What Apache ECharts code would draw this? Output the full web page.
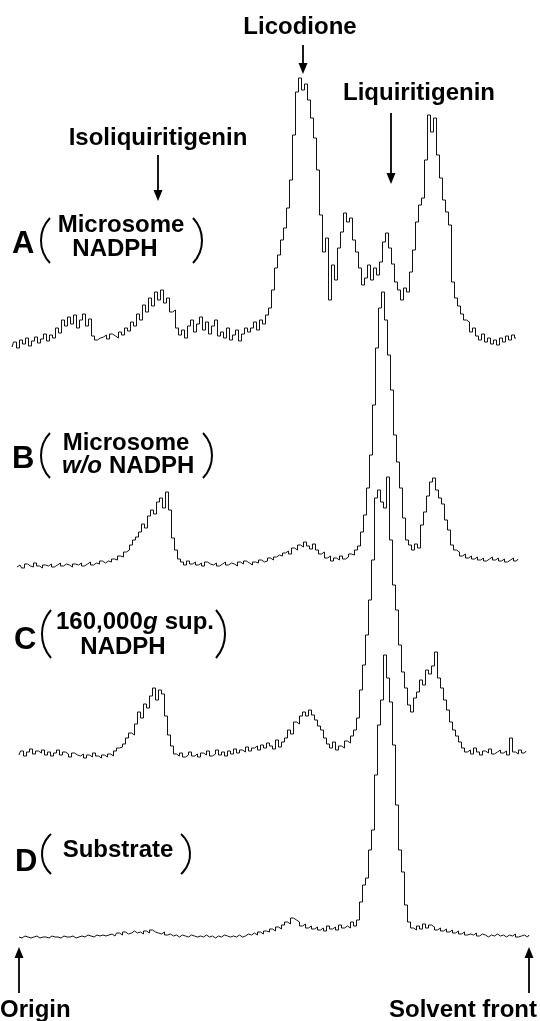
<!DOCTYPE html>
<html>
<head>
<meta charset="utf-8">
<title>Radio-TLC scans</title>
<script src="https://cdn.jsdelivr.net/npm/echarts@6/dist/echarts.min.js"></script>
<style>
  html, body { margin: 0; padding: 0; background: #fff; }
  #main { width: 540px; height: 1021px; }
</style>
</head>
<body>
<div id="main"></div>
<script>
// radioactivity scans, counts above each trace's baseline (one value per ~3 px bin)
const traceA = [3,8,2,10,6,12,4,9,13,7,
  11,16,9,15,12,22,17,30,24,33,
  26,35,22,30,36,24,31,14,10,12,
  13,15,11,16,14,12,18,15,22,19,
  28,24,36,30,45,38,52,44,58,50,
  60,47,52,38,40,22,15,20,12,24,
  30,18,26,33,20,28,16,24,30,14,
  18,12,22,10,15,20,9,16,22,18,
  22,28,20,30,26,35,42,60,82,95,
  110,122,142,170,215,258,272,260,266,250,
  232,212,180,135,98,112,50,85,70,102,
  118,137,128,132,110,98,82,65,72,85,
  70,82,75,88,108,117,102,86,68,60,
  50,62,58,78,100,128,145,152,190,235,
  218,232,195,172,150,138,125,68,52,44,
  36,30,28,18,22,14,10,16,8,12,
  6,10,5,12,8,14,10,15,12];

const traceB = [3,5,2,6,4,3,7,4,2,5,
  4,6,3,5,7,4,6,5,3,6,
  5,7,4,6,8,5,7,6,9,7,
  9,8,11,10,14,13,18,20,25,30,
  33,38,46,42,54,60,56,68,72,62,
  78,60,32,20,11,8,5,9,6,8,
  5,7,4,8,6,5,7,4,6,8,
  5,7,6,4,8,6,9,7,5,8,
  7,10,8,9,12,10,13,15,14,17,
  19,16,22,20,25,23,28,24,21,26,
  20,16,18,12,14,9,12,10,14,11,
  13,16,15,20,24,38,55,82,115,165,
  222,262,278,250,215,180,135,108,82,52,
  30,25,20,26,22,45,58,74,88,92,
  80,72,66,50,40,25,20,18,14,16,
  12,14,11,13,10,12,9,11,13,10,
  12,9,11,8,10,12,9,11];

const traceC = [5,9,4,8,11,6,9,7,10,5,
  8,4,7,10,5,8,6,3,7,5,
  4,6,2,5,3,7,4,2,5,3,
  6,4,9,12,13,16,22,27,25,36,
  48,42,56,52,64,72,60,70,66,44,
  25,14,6,4,7,3,5,8,4,6,
  3,7,5,9,4,6,10,5,8,4,
  9,6,11,7,10,8,13,9,12,14,
  10,15,12,17,14,11,20,13,18,22,
  30,26,38,36,44,48,44,50,45,40,
  34,30,22,16,12,18,10,14,12,19,
  17,24,30,42,70,95,125,160,200,262,
  270,258,252,283,220,175,150,115,88,72,
  55,48,62,68,80,75,90,86,94,108,
  82,72,60,50,38,30,24,18,12,8,
  10,6,12,8,5,9,7,11,6,8,
  10,7,9,5,22,8,6,10,7,9];

const traceD = [3,2,4,3,2,3,4,2,3,3,
  2,4,3,3,2,4,3,3,4,2,
  3,4,3,5,4,3,5,4,5,4,
  5,6,4,7,5,8,6,7,9,7,
  8,6,9,7,10,8,7,6,8,5,
  6,4,5,3,5,4,3,5,4,3,
  4,3,5,3,4,2,4,3,5,4,
  3,4,3,5,3,4,6,5,7,5,
  8,6,9,8,11,9,13,11,15,18,
  16,22,20,18,14,16,12,14,11,13,
  10,12,9,14,11,13,10,15,12,14,
  12,18,14,20,38,55,62,90,110,165,
  215,240,285,262,238,195,135,90,68,35,
  18,12,10,14,11,16,12,15,13,10,
  12,9,11,8,10,7,9,6,8,5,
  6,5,7,4,6,5,3,5,4,6,
  4,5,3,5,4,6,3,4,5,3,5];

const traces = [traceA, traceB, traceC, traceD];
const peakNames = ['Licodione', 'Liquiritigenin', 'Isoliquiritigenin'];
const endNames = ['Origin', 'Solvent front'];

// where each scan sits on the page
const startX = [12, 17, 19, 19];
const baseY = [350, 570, 760, 940];
const STEP = 3;
const H = 300;

const FONT = '"Liberation Sans", Arial, Helvetica, sans-serif';

const chart = echarts.init(document.getElementById('main'), null, { renderer: 'canvas' });

const grid = [], xAxis = [], yAxis = [], series = [];
traces.forEach(function (t, i) {
  grid.push({ left: startX[i], top: baseY[i] - H, width: (t.length - 1) * STEP, height: H });
  xAxis.push({ type: 'category', gridIndex: i, show: false, boundaryGap: false, data: t.map(function (_, k) { return k; }) });
  yAxis.push({ type: 'value', gridIndex: i, show: false, min: 0, max: H });
  series.push({
    type: 'line', xAxisIndex: i, yAxisIndex: i, data: t,
    step: 'middle', showSymbol: false, silent: true,
    lineStyle: { color: '#111', width: 1 }
  });
});

function txt(x, y, s, size, opts) {
  opts = opts || {};
  return {
    type: 'text', x: x, y: y, silent: true,
    style: {
      text: s, fill: '#000',
      font: (opts.italic ? 'italic ' : '') + 'bold ' + size + 'px ' + FONT,
      textAlign: opts.align || 'left', textVerticalAlign: 'middle'
    }
  };
}
function arrow(x, y0, y1) {
  // y0 = tail, y1 = tip
  const dir = y1 > y0 ? 1 : -1;
  return [
    { type: 'line', silent: true, shape: { x1: x, y1: y0, x2: x, y2: y1 - dir * 8 }, style: { stroke: '#000', lineWidth: 1.8 } },
    { type: 'polygon', silent: true, shape: { points: [[x - 4.5, y1 - dir * 11], [x + 4.5, y1 - dir * 11], [x, y1]] }, style: { fill: '#000' } }
  ];
}
function paren(xEdge, yTop, yBot, right) {
  const h = (yBot - yTop) / 2, s = 9;
  const r = (h * h + s * s) / (2 * s);
  const a = Math.asin(h / r);
  const cy = (yTop + yBot) / 2;
  return {
    type: 'arc', silent: true,
    shape: right
      ? { cx: xEdge - r, cy: cy, r: r, startAngle: -a, endAngle: a, clockwise: true }
      : { cx: xEdge + r, cy: cy, r: r, startAngle: Math.PI - a, endAngle: Math.PI + a, clockwise: true },
    style: { stroke: '#000', fill: 'none', lineWidth: 2 }
  };
}

const g = [];
// peak names and arrows
g.push(txt(300, 27, peakNames[0], 24, { align: 'center' }));
g.push.apply(g, arrow(303, 45, 74));
g.push(txt(419, 93, peakNames[1], 24, { align: 'center' }));
g.push.apply(g, arrow(391, 113, 184));
g.push(txt(158, 138, peakNames[2], 24, { align: 'center' }));
g.push.apply(g, arrow(158, 155, 201));

// A
g.push(txt(12, 244, 'A', 31));
g.push(paren(41, 218, 263, false));
g.push(txt(121, 225, 'Microsome', 24, { align: 'center' }));
g.push(txt(115, 249, 'NADPH', 24, { align: 'center' }));
g.push(paren(202, 218, 263, true));

// B
g.push(txt(12, 459, 'B', 31));
g.push(paren(41, 433, 478, false));
g.push(txt(126, 443, 'Microsome', 24, { align: 'center' }));
g.push(txt(62, 466, 'w/o', 24, { italic: true }));
g.push(txt(109, 466, 'NADPH', 24));
g.push(paren(212, 433, 478, true));

// C
g.push(txt(14, 640, 'C', 31));
g.push(paren(42, 610, 658, false));
g.push(txt(56, 622, '160,000', 24));
g.push(txt(143, 622, 'g', 24, { italic: true }));
g.push(txt(158, 622, ' sup.', 24));
g.push(txt(123, 647, 'NADPH', 24, { align: 'center' }));
g.push(paren(225, 610, 658, true));

// D
g.push(txt(15, 862, 'D', 31));
g.push(paren(42, 834, 874, false));
g.push(txt(118, 850, 'Substrate', 24, { align: 'center' }));
g.push(paren(190, 834, 874, true));

// origin / solvent front
g.push.apply(g, arrow(19, 993, 947));
g.push.apply(g, arrow(529, 993, 947));
g.push(txt(0, 1010, endNames[0], 24));
g.push(txt(537, 1010, endNames[1], 24, { align: 'right' }));

chart.setOption({
  animation: false,
  backgroundColor: '#fff',
  grid: grid,
  xAxis: xAxis,
  yAxis: yAxis,
  series: series,
  graphic: g
});
</script>
</body>
</html>
